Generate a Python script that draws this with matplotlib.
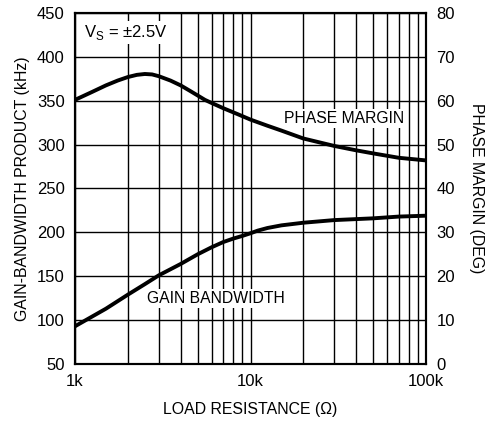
import matplotlib
matplotlib.use("Agg")
import matplotlib.pyplot as plt
from matplotlib.ticker import FixedLocator, NullFormatter

plt.rcParams['font.family'] = ['Liberation Sans', 'DejaVu Sans']

# Load resistance (ohms)
gbw_r = [1000, 1250, 1500, 2000, 2500, 3000, 4000, 5000, 6000, 7000, 8000, 9000, 10000, 11000, 12500, 15000, 20000, 30000, 50000, 70000, 100000]
gbw_khz = [93, 104, 113, 129, 141, 151, 164, 175, 183, 189, 193, 196, 199, 202, 205, 208, 211, 214, 216, 218, 219]

pm_r = [1000, 1250, 1500, 1750, 2000, 2250, 2500, 2750, 3000, 3500, 4000, 4500, 5000, 5500, 6000, 7000, 8500, 10000, 12500, 15000, 20000, 30000, 40000, 50000, 70000, 100000]
pm_deg = [60.2, 62.0, 63.5, 64.6, 65.4, 65.9, 66.1, 66.0, 65.6, 64.6, 63.5, 62.3, 61.2, 60.2, 59.5, 58.3, 56.9, 55.7, 54.3, 53.2, 51.4, 49.7, 48.7, 48.0, 47.0, 46.4]

left_ticks = [50, 100, 150, 200, 250, 300, 350, 400, 450]
right_ticks = [0, 10, 20, 30, 40, 50, 60, 70, 80]
x_ticks = [1000, 10000, 100000]
x_labels = ['1k', '10k', '100k']

fig = plt.figure(figsize=(4.9, 4.21), dpi=100)
ax = fig.add_axes([75/490, 57/421, 351/490, 351/421])
ax.set_xscale('log')
ax.set_xlim(1000, 100000)
ax.set_ylim(50, 450)

ax2 = ax.twinx()
ax2.set_ylim(0, 80)

# grid
minor = [m * 10**e for e in (3, 4) for m in range(2, 10)]
ax.xaxis.set_major_locator(FixedLocator(x_ticks))
ax.xaxis.set_minor_locator(FixedLocator(minor))
ax.xaxis.set_minor_formatter(NullFormatter())
ax.set_xticklabels(x_labels)
ax.set_yticks(left_ticks)
ax2.set_yticks(right_ticks)
ax.grid(True, which='both', axis='x', color='black', linewidth=1.0)
ax.grid(True, which='major', axis='y', color='black', linewidth=1.0)
ax.set_axisbelow(True)

for a in (ax, ax2):
    a.tick_params(which='both', length=0, labelsize=12, pad=7.5, colors='black')
    for s in a.spines.values():
        s.set_linewidth(1.5)
        s.set_color('black')

ax.plot(gbw_r, gbw_khz, color='black', linewidth=2.8, zorder=3, solid_joinstyle='round')
ax2.plot(pm_r, pm_deg, color='black', linewidth=2.8, zorder=3, solid_joinstyle='round')

bbox = dict(facecolor='white', edgecolor='none', pad=1.5)
ax.text(1130, 428, r'V$_\mathregular{S}$ = ±2.5V', fontsize=12, va='center', ha='left', bbox=bbox, zorder=4)
ax.text(15600, 330, 'PHASE MARGIN', fontsize=11.3, va='center', ha='left', bbox=bbox, zorder=4)
ax.text(2580, 125, 'GAIN BANDWIDTH', fontsize=11.3, va='center', ha='left', bbox=bbox, zorder=4)

ax.set_xlabel('LOAD RESISTANCE (Ω)', fontsize=11.4, labelpad=9)
ax.set_ylabel('GAIN-BANDWIDTH PRODUCT (kHz)', fontsize=11.4, labelpad=5)
ax2.set_ylabel('PHASE MARGIN (DEG)', fontsize=11.4, rotation=-90, labelpad=21)

fig.savefig('out.png', dpi=100)
